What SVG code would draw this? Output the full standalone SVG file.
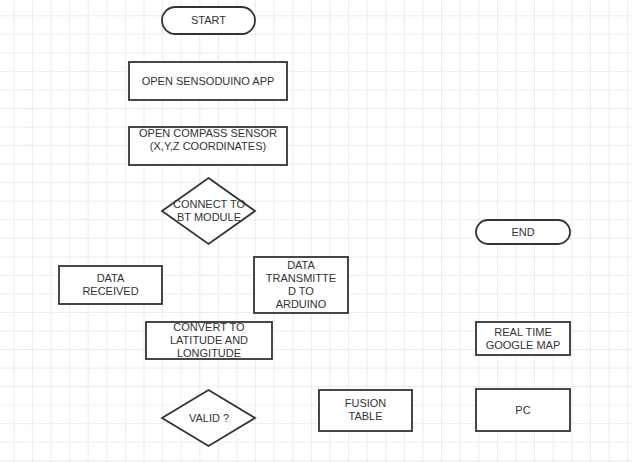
<svg xmlns="http://www.w3.org/2000/svg" width="632" height="462" viewBox="0 0 632 462">
<style>
.s{fill:#ffffff;stroke:#333333;stroke-width:1.8}
text{font-family:"Liberation Sans",Arial,sans-serif;font-size:11px;fill:#333333;text-anchor:middle}
</style>
<defs>
<pattern id="grid" patternUnits="userSpaceOnUse" x="13.3" y="15.3" width="18.6" height="18.54">
<path d="M0.5 0V18.54M0 0.5H18.6" fill="none" stroke="#eaeaf2" stroke-width="1"/>
</pattern>
</defs>
<rect width="632" height="462" fill="#ffffff"/>
<rect width="632" height="462" fill="url(#grid)"/>
<g id="connectors"></g>
<g id="start"><rect class="s" x="162" y="7" width="93" height="27" rx="13.5"/><text x="208.5" y="24">START</text></g>
<g id="open-app"><rect class="s" x="129" y="62" width="158" height="38"/><text x="208" y="85">OPEN SENSODUINO APP</text></g>
<g id="open-compass"><rect class="s" x="129" y="127" width="158" height="38"/><text x="208" y="137">OPEN COMPASS SENSOR</text><text x="208" y="150">(X,Y,Z COORDINATES)</text></g>
<g id="connect-bt"><polygon class="s" points="208.5,178 255,211 208.5,244 162,211"/><text x="209" y="207.5">CONNECT TO</text><text x="209" y="220.5">BT MODULE</text></g>
<g id="data-received"><rect class="s" x="59" y="266" width="103" height="38"/><text x="110.5" y="282">DATA</text><text x="110.5" y="295">RECEIVED</text></g>
<g id="data-transmitted"><rect class="s" x="254" y="257" width="94" height="56"/><text x="301" y="269">DATA</text><text x="301" y="282">TRANSMITTE</text><text x="301" y="295">D TO</text><text x="301" y="308">ARDUINO</text></g>
<g id="convert"><rect class="s" x="146" y="322" width="126" height="37"/><text x="209" y="331">CONVERT TO</text><text x="209" y="344">LATITUDE AND</text><text x="209" y="357">LONGITUDE</text></g>
<g id="valid"><polygon class="s" points="208.5,390 255,418 208.5,446 162,418"/><text x="209" y="422">VALID ?</text></g>
<g id="fusion-table"><rect class="s" x="319" y="390" width="93" height="41"/><text x="365.5" y="407">FUSION</text><text x="365.5" y="420">TABLE</text></g>
<g id="end"><rect class="s" x="476" y="220" width="94" height="24" rx="12"/><text x="523" y="236">END</text></g>
<g id="google-map"><rect class="s" x="476" y="322" width="94" height="33"/><text x="523" y="336">REAL TIME</text><text x="523" y="349">GOOGLE MAP</text></g>
<g id="pc"><rect class="s" x="476" y="389" width="94" height="42"/><text x="523" y="414">PC</text></g>
</svg>
